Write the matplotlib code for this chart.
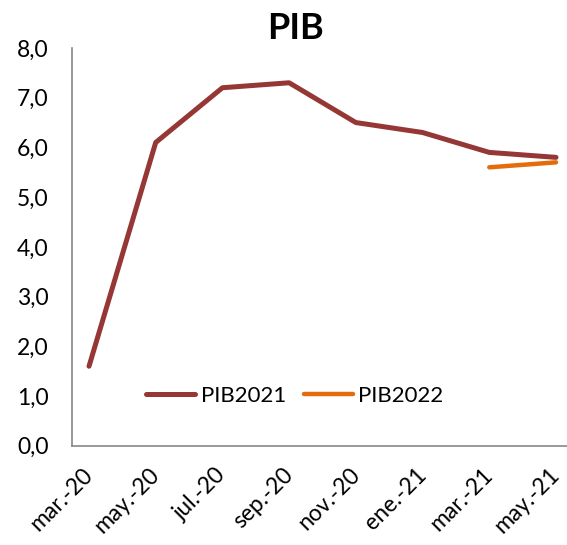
import matplotlib.pyplot as plt
import matplotlib.transforms as mtransforms
import numpy as np

plt.rcParams['font.family'] = ['Lato', 'DejaVu Sans']

meses = ['mar.-20', 'may.-20', 'jul.-20', 'sep.-20', 'nov.-20', 'ene.-21', 'mar.-21', 'may.-21']
pib2021 = [1.6, 6.1, 7.2, 7.3, 6.5, 6.3, 5.9, 5.8]
pib2022 = [np.nan, np.nan, np.nan, np.nan, np.nan, np.nan, 5.6, 5.7]

fig = plt.figure(figsize=(5.67, 5.45), dpi=100)
ax = fig.add_axes([0.127, 0.182, 0.873, 0.730])

x = np.arange(len(meses))
ax.plot(x, pib2021, color='#953735', lw=3.6, solid_capstyle='round', label='PIB2021')
ax.plot(x, pib2022, color='#E46C0A', lw=3.2, solid_capstyle='round', label='PIB2022')

ax.set_xlim(-0.255, 7.165)
ax.set_ylim(0, 8)
ax.set_yticks(np.arange(0, 9, 1))
ax.set_yticklabels([f'{v:.1f}'.replace('.', ',') for v in range(9)], fontsize=16.5)
ax.set_xticks(x)
ax.set_xticklabels(meses, fontsize=16.5, rotation=45, ha='right', rotation_mode='anchor')
ax.tick_params(length=0, pad=13)
ax.tick_params(axis='y', pad=17)

# nudge the rotated month labels a bit to the left so the last one fits
shift = mtransforms.ScaledTranslation(-5 / 72, 0, fig.dpi_scale_trans)
for lbl in ax.get_xticklabels():
    lbl.set_transform(lbl.get_transform() + shift)

for s in ['top', 'right']:
    ax.spines[s].set_visible(False)
for s in ['left', 'bottom']:
    ax.spines[s].set_color('#888888')
    ax.spines[s].set_linewidth(1.2)

fig.text(0.522, 0.948, 'PIB', ha='center', va='center', fontsize=26, fontweight='bold')

ax.legend(loc='center', bbox_to_anchor=(0.45, 0.125), ncol=2, frameon=False, fontsize=16,
          handlelength=2.2, handletextpad=0.25, columnspacing=0.8)

plt.savefig('out.png', dpi=100)
